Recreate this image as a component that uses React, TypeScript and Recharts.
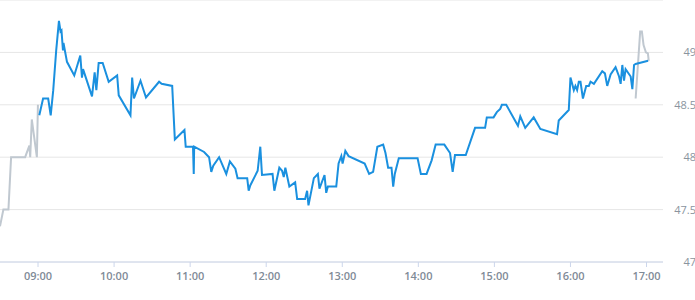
import { LineChart, Line, XAxis, YAxis, CartesianGrid } from 'recharts';

// pre-market trades (grey)
const preTimes = ['08:30', '08:32:40', '08:36:40', '08:38:45', '08:49:50', '08:53:10', '08:53:50', '08:55:05', '08:59:05', '08:59:55'];
const prePrices = [47.34, 47.5, 47.5, 48.0, 48.0, 48.11, 48.0, 48.36, 48.0, 48.5];

// regular session (blue)
const sessionTimes = [
  '09:01', '09:04', '09:08', '09:10', '09:12', '09:14:20', '09:16:30', '09:17:45', '09:18:30', '09:19:40',
  '09:20:05', '09:22:50', '09:28:35', '09:33:20', '09:34:40', '09:35:30', '09:42:35', '09:44:40', '09:46', '09:47:50',
  '09:51', '09:55:45', '10:02:25', '10:03:40', '10:12:55', '10:14:15', '10:15:40', '10:20:50', '10:25:10', '10:35:30',
  '10:37:30', '10:45:50', '10:47:55', '10:55:30', '10:56:30', '11:02:15', '11:02:50', '11:03:10', '11:11', '11:14:55',
  '11:16:40', '11:18:15', '11:22:50', '11:28:30', '11:31:20', '11:35:40', '11:37:25', '11:45', '11:46:10', '11:47:25',
  '11:53:15', '11:55:20', '11:56:40', '12:05', '12:06:25', '12:10:20', '12:12:30', '12:13:50', '12:15:05', '12:18:15',
  '12:22:50', '12:24:25', '12:30:40', '12:32:15', '12:33:20', '12:37:35', '12:40:45', '12:42', '12:46', '12:47:20',
  '12:48:40', '12:55:15', '12:57:05', '12:59:15', '13:00:15', '13:02:25', '13:05', '13:17:40', '13:21:10', '13:24:20',
  '13:27:40', '13:32:15', '13:34:05', '13:36:10', '13:38:50', '13:40:10', '13:41:25', '13:44:35', '13:59:25', '14:02',
  '14:06:30', '14:10:30', '14:13:40', '14:20:30', '14:25', '14:27:05', '14:28:55', '14:37:25', '14:44:45', '14:52:40',
  '14:54', '14:59:20', '15:01:55', '15:04:35', '15:05:55', '15:09:20', '15:18:35', '15:20:25', '15:24:20', '15:31',
  '15:36:15', '15:49:25', '15:50:45', '15:58:40', '16:00', '16:02:40', '16:03:55', '16:05:15', '16:06:35', '16:07:55',
  '16:09:50', '16:12:25', '16:14:30', '16:15:50', '16:18:30', '16:25:05', '16:27:10', '16:29', '16:31:40', '16:35:35',
  '16:38:20', '16:39:35', '16:40:55', '16:42:15', '16:43:30', '16:47:30', '16:48:50', '16:50:10', '16:51:25', '17:01:15',
];
const sessionPrices = [
  48.4, 48.56, 48.56, 48.4, 48.64, 49.02, 49.3, 49.2, 49.21, 49.02,
  49.09, 48.91, 48.78, 48.97, 48.76, 48.84, 48.58, 48.81, 48.64, 48.9,
  48.9, 48.72, 48.78, 48.59, 48.4, 48.76, 48.56, 48.73, 48.57, 48.72,
  48.7, 48.68, 48.17, 48.26, 48.1, 48.1, 47.84, 48.1, 48.05, 48.0,
  47.86, 47.92, 48.0, 47.84, 47.96, 47.89, 47.8, 47.8, 47.68, 47.73,
  47.87, 48.1, 47.83, 47.84, 47.68, 47.9, 47.87, 47.81, 47.9, 47.72,
  47.76, 47.6, 47.6, 47.68, 47.54, 47.8, 47.84, 47.7, 47.83, 47.66,
  47.72, 47.72, 47.94, 48.01, 47.94, 48.06, 48.01, 47.94, 47.84, 47.86,
  48.1, 48.12, 48.04, 47.9, 47.9, 47.72, 47.84, 47.99, 47.99, 47.84,
  47.84, 47.97, 48.12, 48.12, 48.04, 47.86, 48.02, 48.02, 48.28, 48.28,
  48.38, 48.38, 48.43, 48.46, 48.5, 48.5, 48.3, 48.39, 48.28, 48.38,
  48.27, 48.22, 48.35, 48.45, 48.76, 48.64, 48.68, 48.64, 48.72, 48.72,
  48.56, 48.68, 48.68, 48.72, 48.7, 48.82, 48.8, 48.68, 48.79, 48.86,
  48.77, 48.7, 48.88, 48.73, 48.84, 48.77, 48.65, 48.88, 48.89, 48.92,
];

// after-hours trades (grey)
const postTimes = ['16:51:25', '16:55', '16:56:20', '16:57:40', '16:59:30', '17:01:05', '17:01:45'];
const postPrices = [48.56, 49.2, 49.2, 49.07, 49.0, 48.99, 48.92];

const timeTicks = ['09:00', '10:00', '11:00', '12:00', '13:00', '14:00', '15:00', '16:00', '17:00'];
const priceTicks = [47, 47.5, 48, 48.5, 49];

const toMinutes = (s: string) => {
  const [h, m, sec] = s.split(':').map(Number);
  return h * 60 + m + (sec || 0) / 60;
};

const toLabel = (v: number) => {
  const h = Math.floor(v / 60);
  const m = Math.round(v % 60);
  return String(h).padStart(2, '0') + ':' + String(m).padStart(2, '0');
};

const build = (times: string[], prices: number[]) =>
  times.map((t, i) => ({ t: toMinutes(t), price: prices[i] }));

const preData = build(preTimes, prePrices);
const sessionData = build(sessionTimes, sessionPrices);
const postData = build(postTimes, postPrices);

const font = '"Open Sans", sans-serif';

const PriceTick = ({ x, y, payload }: any) => (
  <text x={x + 31} y={y} dy={4} textAnchor="end" fill="#8a949e" fontSize={11} fontFamily={font}>
    {payload.value}
  </text>
);

export default function App() {
  return (
    <div style={{ position: 'absolute', left: 0, top: 0 }}>
      <LineChart width={695} height={300} margin={{ top: 0, right: 0, bottom: 0, left: 0 }}>
        <CartesianGrid vertical={false} stroke="#e6e6e6" />
        <XAxis
          type="number"
          dataKey="t"
          domain={[510, 1033]}
          ticks={timeTicks.map(toMinutes)}
          tickFormatter={toLabel}
          height={38}
          stroke="#ccd6eb"
          tickSize={5}
          tickMargin={5}
          tick={{ fill: '#7f8b97', fontSize: 11, fontWeight: 600, fontFamily: font }}
          allowDataOverflow
        />
        <YAxis
          orientation="right"
          width={32}
          domain={[47, 49.5]}
          ticks={priceTicks}
          axisLine={false}
          tickLine={false}
          tickSize={0}
          tick={<PriceTick />}
          allowDataOverflow
        />
        <Line data={preData} dataKey="price" stroke="#c0c8d0" strokeWidth={2} dot={false} activeDot={false} isAnimationActive={false} />
        <Line data={postData} dataKey="price" stroke="#c0c8d0" strokeWidth={2} dot={false} activeDot={false} isAnimationActive={false} />
        <Line data={sessionData} dataKey="price" stroke="#1a90df" strokeWidth={2} dot={false} activeDot={false} isAnimationActive={false} />
      </LineChart>
    </div>
  );
}
